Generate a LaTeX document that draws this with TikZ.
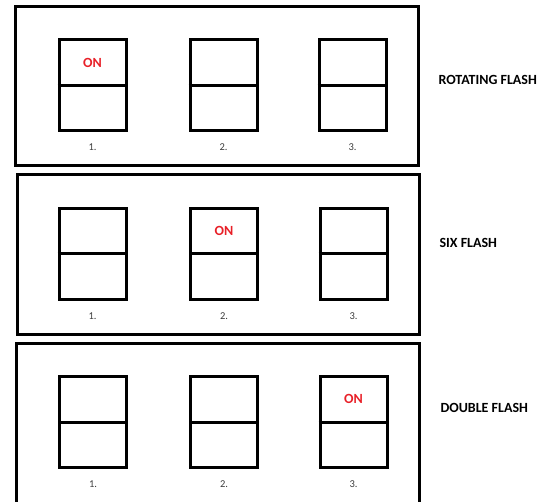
\documentclass[tikz,border=0pt]{standalone}
\usepackage{xcolor}
\usepackage{tikz}
\usepackage{fontspec}
\setmainfont{Carlito}
\usetikzlibrary{positioning, calc}
\definecolor{onred}{RGB}{232, 32, 40}
\definecolor{numgray}{RGB}{60, 60, 60}

\begin{document}
\begin{tikzpicture}[x=1pt, y=-1pt,
    panel/.style={draw=black, line width=3pt, inner sep=0pt},
    lamp/.style={draw=black, line width=3pt, minimum width=67pt, minimum height=91pt, inner sep=0pt},
    divider/.style={line width=3pt},
    ontext/.style={text=onred, font=\fontsize{14}{16}\selectfont\bfseries},
    numtext/.style={text=numgray, font=\fontsize{10.5}{12}\selectfont},
    modetext/.style={anchor=west, font=\fontsize{14}{16}\selectfont\bfseries}]
    \useasboundingbox (0,0) rectangle (548,502);

    % rotating flash
    \node[panel, minimum width=403pt, minimum height=159.5pt] (rotpanel) at (216.7,85.8) {};
    \node[lamp] (rot1) at (92.5,85.5) {};
    \node[lamp] (rot2) at (223.5,85.5) {};
    \node[lamp] (rot3) at (352.5,85.5) {};
    \draw[divider] (rot1.west) -- (rot1.east);
    \draw[divider] (rot2.west) -- (rot2.east);
    \draw[divider] (rot3.west) -- (rot3.east);
    \node[ontext] (rot1on) at ($(rot1.north)!0.26!(rot1.south)$) {ON};
    \node[numtext, below=8pt of rot1] (rot1num) {1.};
    \node[numtext, below=8pt of rot2] (rot2num) {2.};
    \node[numtext, below=8pt of rot3] (rot3num) {3.};
    \node[modetext] (rotlabel) at (435,80) {ROTATING FLASH};

    % six flash
    \node[panel, minimum width=402pt, minimum height=160.5pt] (sixpanel) at (218,254.3) {};
    \node[lamp] (six1) at (92.5,254) {};
    \node[lamp] (six2) at (224,254) {};
    \node[lamp] (six3) at (353.5,254) {};
    \draw[divider] (six1.west) -- (six1.east);
    \draw[divider] (six2.west) -- (six2.east);
    \draw[divider] (six3.west) -- (six3.east);
    \node[ontext] (six2on) at ($(six2.north)!0.26!(six2.south)$) {ON};
    \node[numtext, below=8pt of six1] (six1num) {1.};
    \node[numtext, below=8pt of six2] (six2num) {2.};
    \node[numtext, below=8pt of six3] (six3num) {3.};
    \node[modetext] (sixlabel) at (436,243) {SIX FLASH};

    % double flash
    \node[panel, minimum width=403.5pt, minimum height=162pt] (dblpanel) at (218.2,424) {};
    \node[lamp] (dbl1) at (93,422) {};
    \node[lamp] (dbl2) at (224,422) {};
    \node[lamp] (dbl3) at (353.5,422) {};
    \draw[divider] (dbl1.west) -- (dbl1.east);
    \draw[divider] (dbl2.west) -- (dbl2.east);
    \draw[divider] (dbl3.west) -- (dbl3.east);
    \node[ontext] (dbl3on) at ($(dbl3.north)!0.26!(dbl3.south)$) {ON};
    \node[numtext, below=8pt of dbl1] (dbl1num) {1.};
    \node[numtext, below=8pt of dbl2] (dbl2num) {2.};
    \node[numtext, below=8pt of dbl3] (dbl3num) {3.};
    \node[modetext] (dbllabel) at (437,408) {DOUBLE FLASH};
\end{tikzpicture}
\end{document}
